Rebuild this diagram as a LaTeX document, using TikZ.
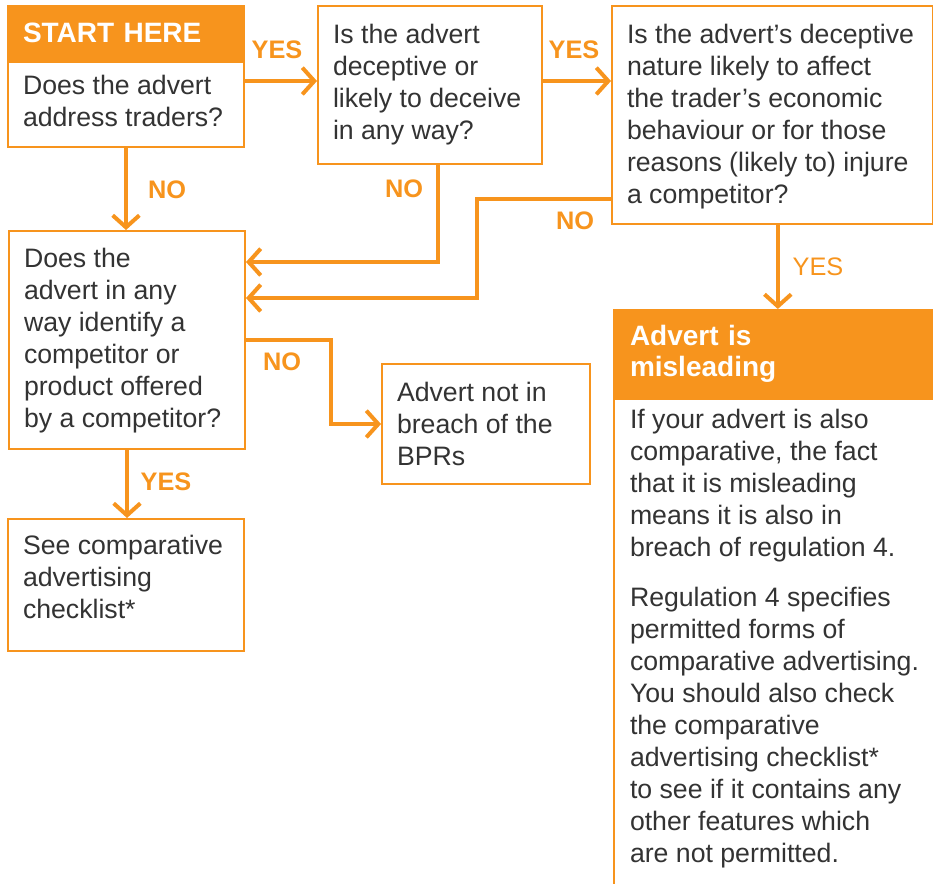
\documentclass[tikz,border=0pt]{standalone}
\usepackage{fontspec}
\setmainfont{Liberation Sans}
\usepackage{tikz}
\usetikzlibrary{arrows.meta,positioning}

\definecolor{brand}{HTML}{F7941D}
\definecolor{ink}{HTML}{333333}
\newlength{\pxu}
\setlength{\pxu}{0.75pt}
\newcommand{\boxtext}[3]{\parbox[c][#2\pxu][t]{#1\pxu}{\raggedright\strut #3}}

\tikzset{
  box/.style={draw=brand, line width=1.5pt, fill=white, anchor=north west,
    inner xsep=15\pxu, text=ink, font=\fontsize{20}{24}\selectfont},
  head/.style={box, fill=brand, text=white, align=left,
    font=\bfseries\fontsize{21}{23.25}\selectfont},
  flow/.style={draw=brand, line width=3pt, -{Straight Barb[length=9pt,width=20pt]}},
  lbl/.style={text=brand, inner sep=0pt, font=\bfseries\fontsize{19}{20}\selectfont},
}

\begin{document}
\begin{tikzpicture}[x=0.75pt, y=-0.75pt]
  \path[use as bounding box, clip] (0,0) rectangle (933,883);

  % questions
  \node[head, minimum width=236\pxu, minimum height=54\pxu, text width=206\pxu] (starthead) at (7,5) {START HERE};
  \node[box, inner ysep=9.6\pxu, below=0pt of starthead] (start) {\boxtext{206}{65.8}{Does the advert\\address traders?}};
  \node[box, inner ysep=14.6\pxu] (deceive) at (317,5) {\boxtext{194}{128.8}{Is the advert\\deceptive or\\likely to deceive\\in any way?}};
  \node[box, inner ysep=14.6\pxu] (effect) at (611,5) {\boxtext{291}{188.8}{Is the advert’s deceptive\\nature likely to affect\\the trader’s economic\\behaviour or for those\\reasons (likely to) injure\\a competitor?}};
  \node[box, inner ysep=13.6\pxu] (identify) at (8,230) {\boxtext{206}{190.8}{Does the\\advert in any\\way identify a\\competitor or\\product offered\\by a competitor?}};

  % outcomes
  \node[box, inner ysep=14.6\pxu] (breach) at (381,363) {\boxtext{178}{90.8}{Advert not in\\breach of the\\BPRs}};
  \node[box, inner ysep=12.6\pxu] (compare) at (7,518) {\boxtext{206}{106.8}{See comparative\\advertising\\checklist*}};
  \node[head, minimum width=332\pxu, minimum height=87\pxu, inner xsep=16\pxu, text width=300\pxu] (mishead) at (613,309) {Advert is\\misleading};
  \node[box, inner xsep=16\pxu, inner ysep=6.6\pxu, below=0pt of mishead] (misbody) {\boxtext{300}{490.8}{If your advert is also\\comparative, the fact\\that it is misleading\\means it is also in\\breach of regulation 4.\\[13.5pt]Regulation 4 specifies\\permitted forms of\\comparative advertising.\\You should also check\\the comparative\\advertising checklist*\\to see if it contains any\\other features which\\are not permitted.}};

  % arrows
  \draw[flow] ([yshift=3pt]deceive.west -| start.east) -- ([yshift=3pt]deceive.west);
  \draw[flow] ([yshift=3pt]deceive.east) -- ([yshift=3pt]deceive.east -| effect.west);
  \draw[flow] (start.south) -- (start.south |- identify.north);
  \draw[flow] ([xshift=6pt]deceive.south) |- ([yshift=-24pt]identify.north east);
  \draw[flow] ([yshift=19.5pt]effect.south west) -- ++(-134,0) |- ([yshift=-51pt]identify.north east);
  \draw[flow] ([xshift=4pt]effect.south) -- ([xshift=4pt]effect.south |- mishead.north);
  \draw[flow] (identify.east) -- ++(85,0) |- (breach.west);
  \draw[flow] (identify.south) -- (identify.south |- compare.north);

  % labels
  \node[lbl] (yes1) at (277,50) {YES};
  \node[lbl] (yes2) at (574,50) {YES};
  \node[lbl] (no1) at (167,190) {NO};
  \node[lbl] (no2) at (404,189) {NO};
  \node[lbl] (no3) at (575,221) {NO};
  \node[lbl, font=\fontsize{19}{20}\selectfont] (yes3) at (818,267) {YES};
  \node[lbl] (no4) at (282,362) {NO};
  \node[lbl] (yes4) at (166,482) {YES};
\end{tikzpicture}
\end{document}
